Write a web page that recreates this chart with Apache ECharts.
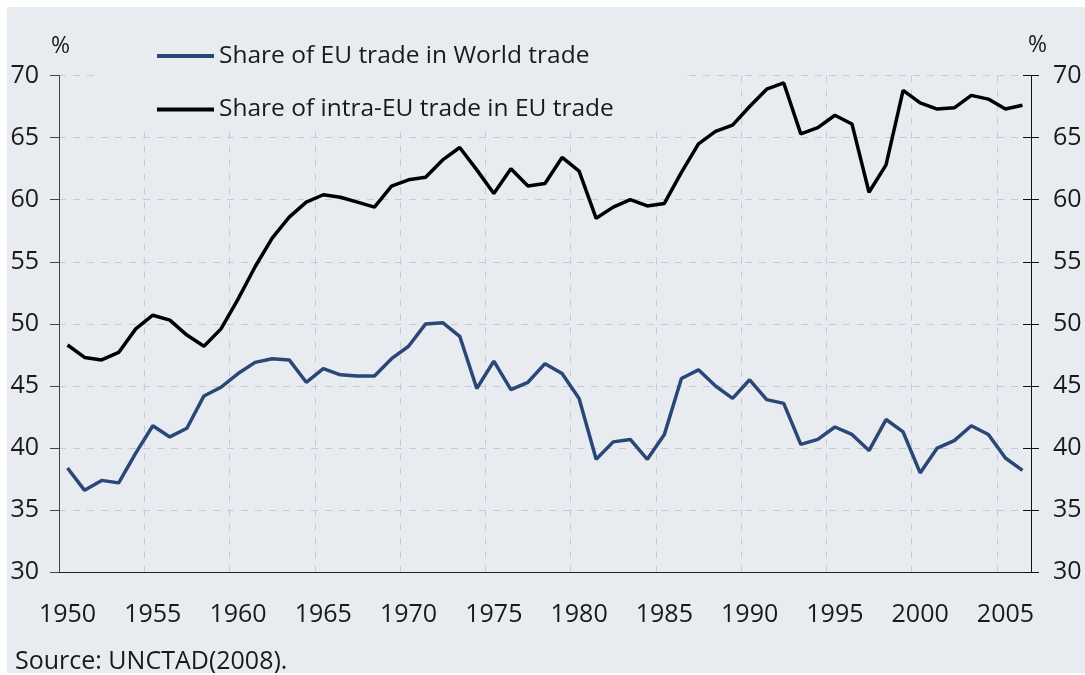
<!DOCTYPE html>
<html>
<head>
<meta charset="utf-8">
<script src="https://cdn.jsdelivr.net/npm/echarts@6/dist/echarts.min.js"></script>
<style>
  html, body { margin: 0; padding: 0; background: #ffffff; }
  #chart { position: absolute; left: 7px; top: 7px; width: 1078px; height: 666px; background: #e8ebf0; }
</style>
</head>
<body>
<div id="chart"></div>
<script>
// years on the x axis
const years = [];
for (let y = 1950; y <= 2006; y++) years.push(String(y));

// Share of EU trade in World trade (%)
const euInWorld = [
  38.4, 36.6, 37.4, 37.2, 39.6, 41.8, 40.9, 41.6, 44.2, 44.9,
  46.0, 46.9, 47.2, 47.1, 45.3, 46.4, 45.9, 45.8, 45.8, 47.2,
  48.2, 50.0, 50.1, 49.0, 44.8, 47.0, 44.7, 45.3, 46.8, 46.0,
  44.0, 39.1, 40.5, 40.7, 39.1, 41.1, 45.6, 46.3, 45.0, 44.0,
  45.5, 43.9, 43.6, 40.3, 40.7, 41.7, 41.1, 39.8, 42.3, 41.3,
  38.0, 40.0, 40.6, 41.8, 41.1, 39.2, 38.2
];

// Share of intra-EU trade in EU trade (%)
const intraEu = [
  48.3, 47.3, 47.1, 47.7, 49.6, 50.7, 50.3, 49.1, 48.2, 49.6,
  52.0, 54.6, 56.9, 58.6, 59.8, 60.4, 60.2, 59.8, 59.4, 61.1,
  61.6, 61.8, 63.2, 64.2, 62.4, 60.5, 62.5, 61.1, 61.3, 63.4,
  62.3, 58.5, 59.4, 60.0, 59.5, 59.7, 62.2, 64.5, 65.5, 66.0,
  67.5, 68.9, 69.4, 65.3, 65.8, 66.8, 66.1, 60.6, 62.8, 68.8,
  67.8, 67.3, 67.4, 68.4, 68.1, 67.3, 67.6
];

const seriesNames = ['Share of EU trade in World trade', 'Share of intra-EU trade in EU trade'];
const sourceNote = 'Source: UNCTAD(2008).';

const FONT = 'Open Sans';
const TEXT = '#1a1a1a';
const BG = '#e8ebf0';
const GRID = '#c4cad6';
const BLUE = '#2b4777';

const every5 = idx => idx % 5 === 0;

const yBase = {
  type: 'value', min: 30, max: 70, interval: 5
};

const chart = echarts.init(document.getElementById('chart'), null, { renderer: 'canvas' });

chart.setOption({
  backgroundColor: BG,
  animation: false,
  grid: { left: 52, right: 54, top: 68.5, bottom: 100.7, outerBoundsMode: 'none' },
  legend: {
    orient: 'vertical',
    left: 87, top: 23,
    padding: [13, 68, 6, 63],
    backgroundColor: BG,
    icon: 'rect',
    itemWidth: 57, itemHeight: 4,
    itemGap: 27.5,
    textStyle: { fontFamily: FONT, fontSize: 24.5, lineHeight: 26, color: TEXT },
    data: seriesNames
  },
  xAxis: {
    type: 'category',
    data: years,
    boundaryGap: true,
    axisLine: { lineStyle: { color: '#222', width: 1 } },
    axisTick: { interval: every5, length: 8, lineStyle: { color: '#222' } },
    axisLabel: { interval: every5, margin: 30, fontFamily: FONT, fontSize: 25, color: TEXT },
    splitLine: { show: true, interval: every5, lineStyle: { color: GRID, type: [7, 7], width: 1 } }
  },
  yAxis: [
    Object.assign({}, yBase, {
      position: 'left',
      axisLine: { show: true, lineStyle: { color: '#444' } },
      axisTick: { show: true, length: 9, lineStyle: { color: '#444' } },
      axisLabel: { margin: 20, fontFamily: FONT, fontSize: 25, color: TEXT },
      splitLine: { show: true, lineStyle: { color: GRID, type: [7, 7], width: 1 } }
    }),
    Object.assign({}, yBase, {
      position: 'right',
      axisLine: { show: true, lineStyle: { color: '#111' } },
      axisTick: { show: true, length: 8, lineStyle: { color: '#111' } },
      axisLabel: { margin: 22, fontFamily: FONT, fontSize: 25, color: TEXT },
      splitLine: { show: false }
    }),
    Object.assign({}, yBase, {
      position: 'right',
      axisLine: { show: false },
      axisTick: { show: true, inside: true, length: 8, lineStyle: { color: '#111' } },
      axisLabel: { show: false },
      splitLine: { show: false }
    })
  ],
  graphic: [
    { type: 'text', left: 44, top: 28, style: { text: '%', font: '23px "' + FONT + '"', fill: TEXT } },
    { type: 'text', left: 1021, top: 27, style: { text: '%', font: '23px "' + FONT + '"', fill: TEXT } },
    { type: 'text', left: 8, top: 642, style: { text: sourceNote, font: '25px "' + FONT + '"', fill: TEXT } }
  ],
  series: [
    {
      name: seriesNames[0], type: 'line', data: euInWorld,
      symbol: 'none', color: BLUE,
      lineStyle: { color: BLUE, width: 3.5 }, z: 3
    },
    {
      name: seriesNames[1], type: 'line', data: intraEu,
      symbol: 'none', color: '#000000',
      lineStyle: { color: '#000000', width: 3.5 }, z: 3
    }
  ]
});
</script>
</body>
</html>
